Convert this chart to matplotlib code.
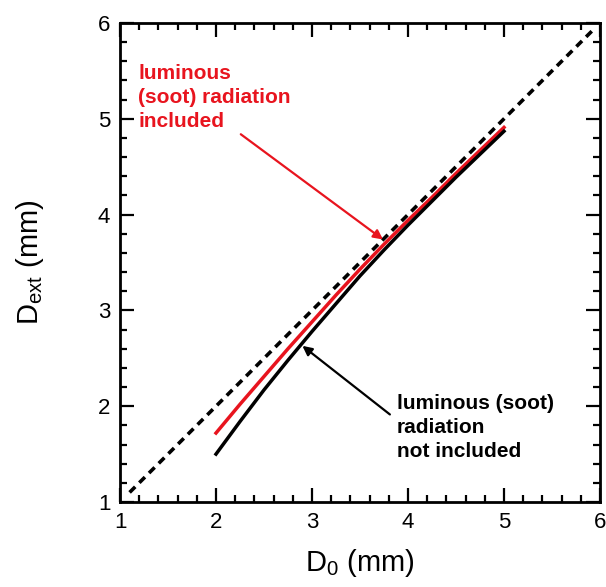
import matplotlib
matplotlib.use("Agg")
import matplotlib.pyplot as plt
from matplotlib.ticker import MultipleLocator

plt.rcParams["font.family"] = ["Liberation Sans", "DejaVu Sans"]
plt.rcParams["mathtext.fontset"] = "custom"
plt.rcParams["mathtext.rm"] = "Liberation Sans"

# reference line D_ext = D_0
ref_x = [1.1, 5.93]
ref_y = [1.1, 5.93]

# with luminous (soot) radiation
d0_red = [2.0, 2.25, 2.5, 2.75, 3.0, 3.25, 3.5, 3.75, 4.0, 4.25, 4.5, 4.75, 5.0]
dext_red = [1.72, 2.02, 2.31, 2.60, 2.88, 3.16, 3.43, 3.69, 3.94, 4.18, 4.43, 4.67, 4.91]

# without luminous radiation
d0_black = [2.0, 2.25, 2.5, 2.75, 3.0, 3.25, 3.5, 3.75, 4.0, 4.25, 4.5, 4.75, 5.0]
dext_black = [1.50, 1.84, 2.17, 2.48, 2.78, 3.07, 3.36, 3.63, 3.89, 4.14, 4.39, 4.63, 4.87]

fig = plt.figure(figsize=(6.06, 5.87), dpi=100)
ax = fig.add_axes([120 / 606, 85 / 587, 480 / 606, 479 / 587])

ax.plot(ref_x, ref_y, color="black", linestyle=(0, (2.2, 1.6)), linewidth=2.6)
ax.plot(d0_red, dext_red, color="#e8141e", linewidth=2.5)
ax.plot(d0_black, dext_black, color="black", linewidth=2.5)

ax.set_xlim(1, 6)
ax.set_ylim(1, 6)
ax.xaxis.set_major_locator(MultipleLocator(1))
ax.yaxis.set_major_locator(MultipleLocator(1))
ax.xaxis.set_minor_locator(MultipleLocator(0.2))
ax.yaxis.set_minor_locator(MultipleLocator(0.2))
ax.tick_params(which="both", direction="in", top=True, right=True, width=1.6,
               labelsize=16, pad=7)
ax.tick_params(which="major", length=10)
ax.tick_params(which="minor", length=5)
for s in ax.spines.values():
    s.set_linewidth(2)

ax.set_xlabel(r"D$_{\mathregular{0}}$ (mm)", fontsize=21, labelpad=10)
ax.set_ylabel(r"D$_{\mathregular{ext}}$ (mm)", fontsize=21)
ax.yaxis.set_label_coords(-0.155, 0.5)

ax.annotate("luminous\n(soot) radiation\nincluded", xy=(3.74, 3.74), xytext=(1.19, 5.22),
            color="#e8141e", fontsize=15, fontweight="bold", ha="left", va="center",
            linespacing=1.35,
            arrowprops=dict(arrowstyle="-|>", color="#e8141e", lw=1.6,
                            shrinkA=0, shrinkB=0, mutation_scale=14,
                            relpos=(0.6, 0.08)))
ax.annotate("luminous (soot)\nradiation\nnot included", xy=(2.9, 2.63), xytext=(3.885, 1.78),
            color="black", fontsize=15, fontweight="bold", ha="left", va="center",
            linespacing=1.35,
            arrowprops=dict(arrowstyle="-|>", color="black", lw=1.6,
                            shrinkA=0, shrinkB=0, mutation_scale=14,
                            relpos=(-0.045, 0.69)))

fig.savefig("out.png", dpi=100)
